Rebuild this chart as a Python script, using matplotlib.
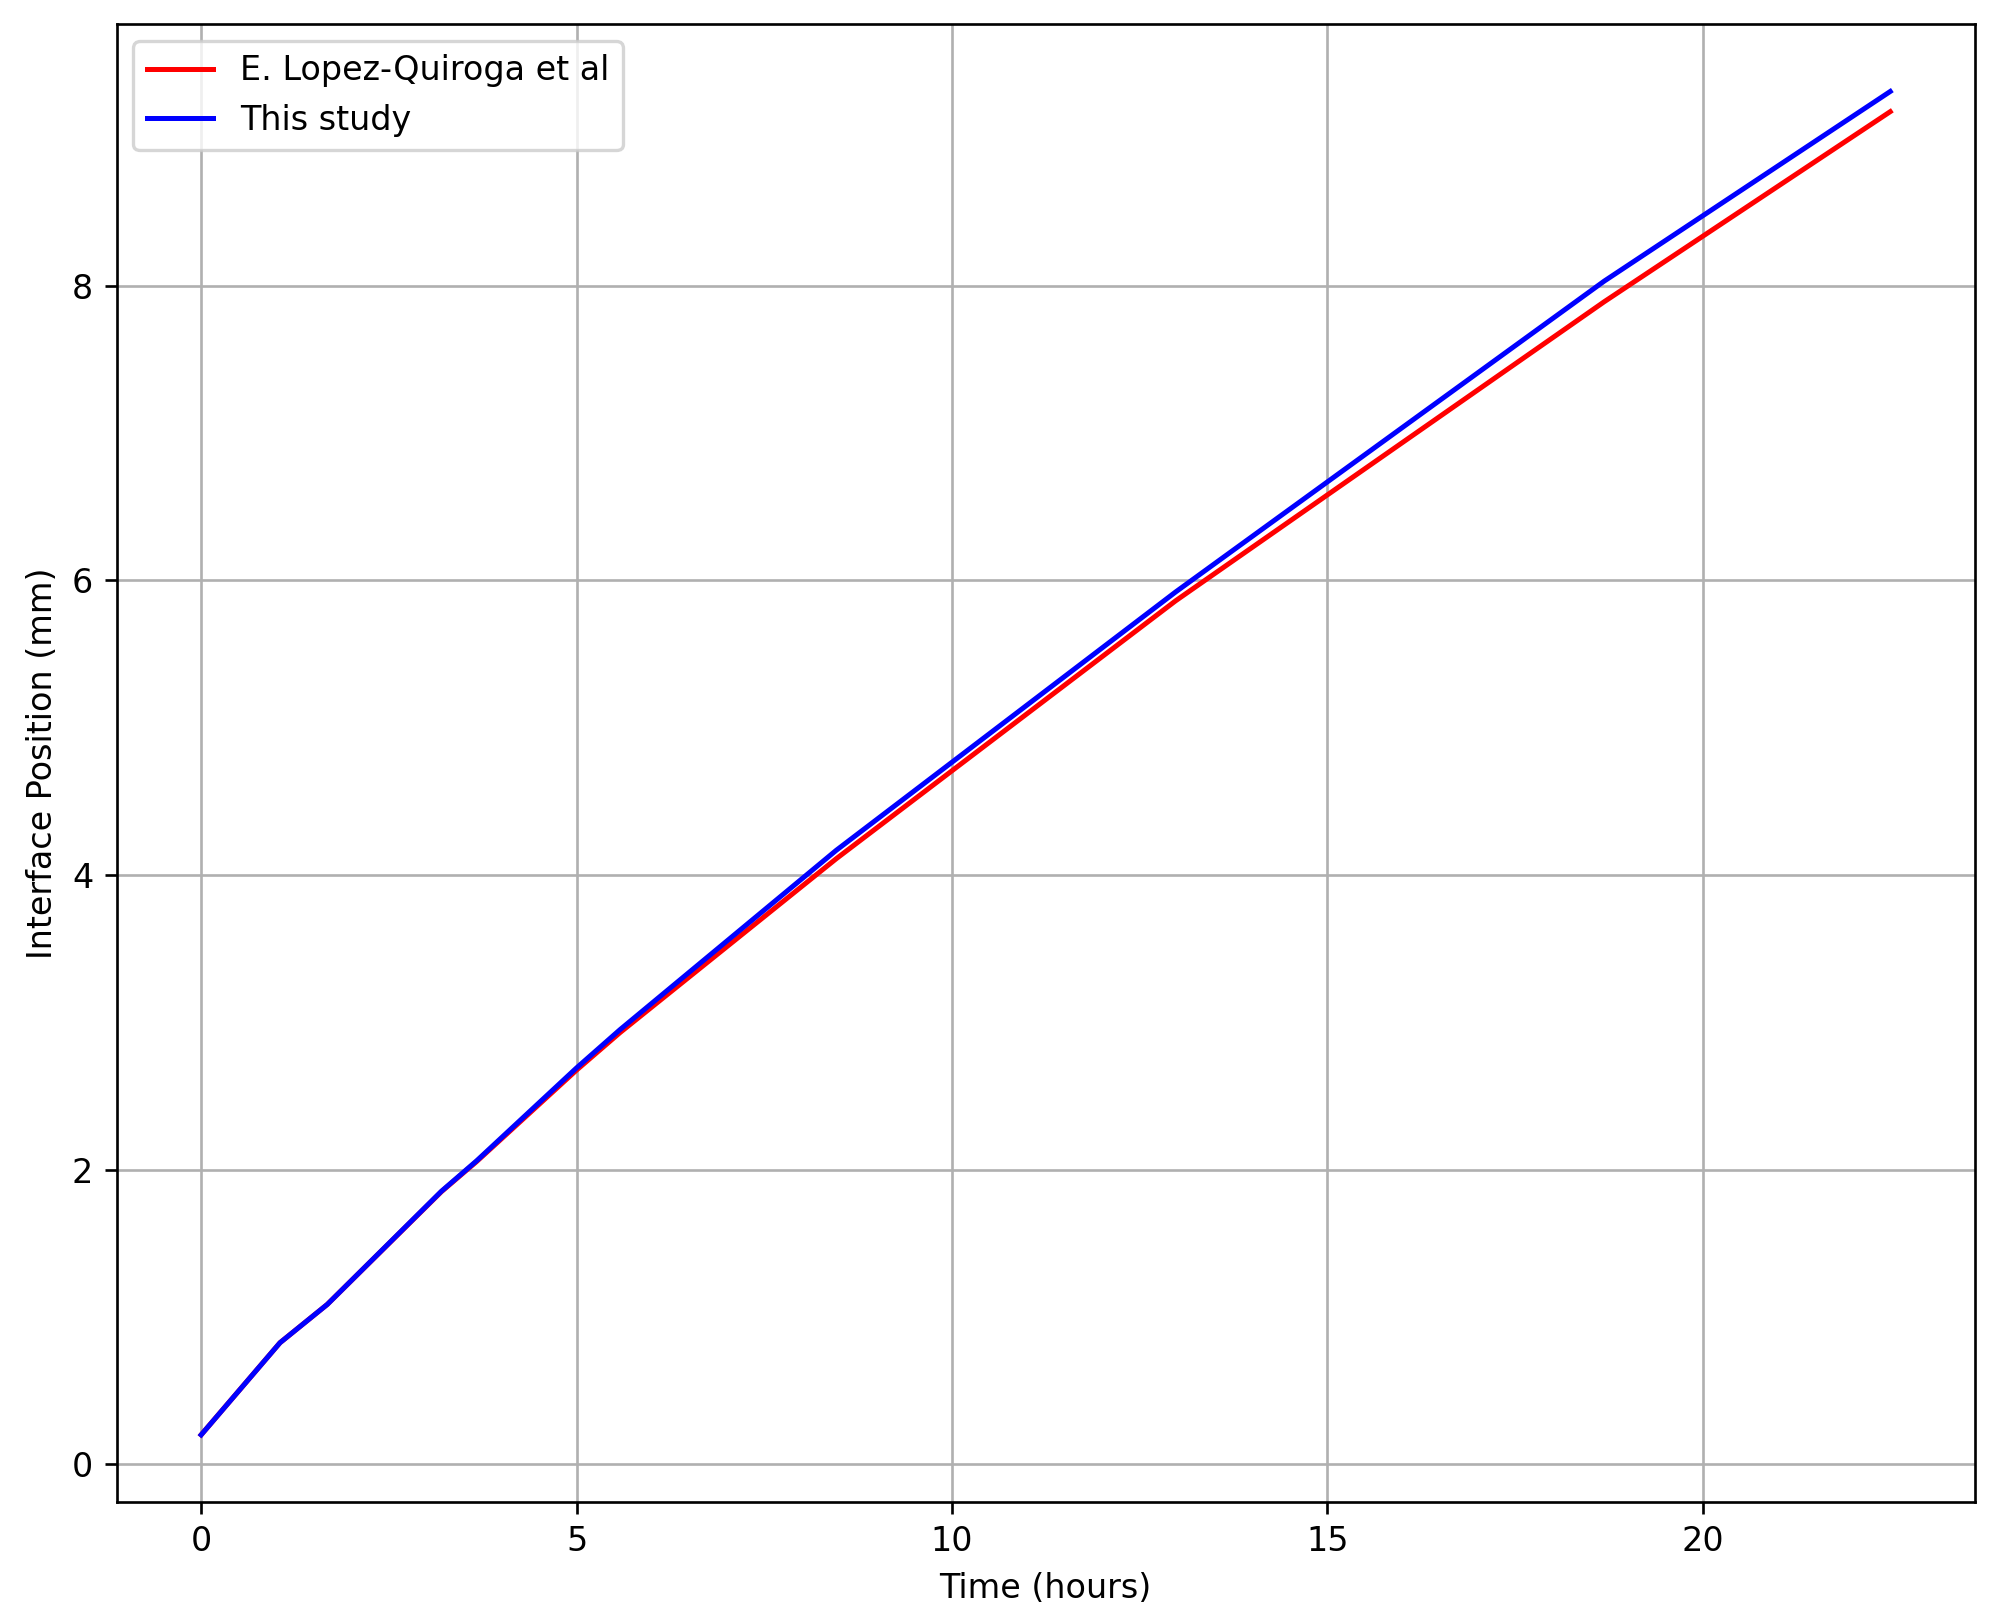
import matplotlib
matplotlib.use("Agg")
import matplotlib.pyplot as plt

# Interface position vs time
time_hours = [0.0, 1.05, 1.68, 3.2, 3.67, 5.0, 5.58, 8.46, 12.98, 18.69, 22.5]
lopez_quiroga = [0.20, 0.825, 1.085, 1.85, 2.055, 2.675, 2.93, 4.11, 5.86, 7.89, 9.18]
this_study = [0.20, 0.825, 1.085, 1.853, 2.06, 2.69, 2.95, 4.167, 5.92, 8.03, 9.317]

DPI = 240
W, H = 2009, 1621

fig = plt.figure(figsize=(W / DPI, H / DPI), dpi=DPI)
ax = fig.add_axes([116.7 / W, (H - 1502.0) / H, 1858.0 / W, 1477.7 / H])

ax.plot(time_hours, lopez_quiroga, color='r', label='E. Lopez-Quiroga et al')
ax.plot(time_hours, this_study, color='b', label='This study')

ax.set_xlabel('Time (hours)')
ax.set_ylabel('Interface Position (mm)')
ax.legend(loc='upper left')
ax.grid(True)

fig.savefig('out.png', dpi=DPI)
